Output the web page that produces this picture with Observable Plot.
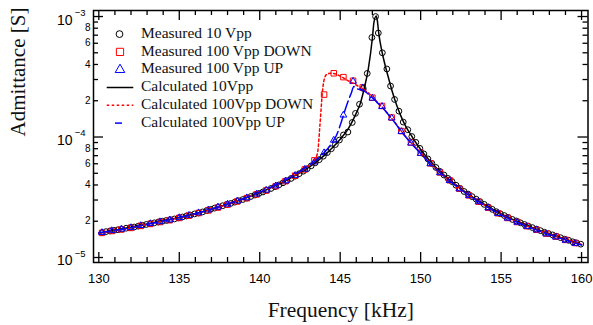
<!DOCTYPE html>
<html><head><meta charset="utf-8">
<script src="https://cdn.jsdelivr.net/npm/d3@7"></script>
<script src="https://cdn.jsdelivr.net/npm/@observablehq/plot@0.6"></script>
<style>
html,body{margin:0;padding:0;background:#fff;}
#chart{width:593px;height:325px;}
</style></head><body><div id="chart"></div>
<script>
// ---- Measured 10 Vpp (kHz, S)
const freq10 = [130.2,130.45,130.7,130.95,131.2,131.45,131.7,131.95,132.2,132.45,132.7,132.95,133.2,133.45,133.7,133.95,134.2,134.45,134.7,134.95,135.2,135.45,135.7,135.95,136.2,136.45,136.7,136.95,137.2,137.45,137.7,137.95,138.2,138.45,138.7,138.95,139.2,139.45,139.7,139.95,140.2,140.45,140.7,140.95,141.2,141.45,141.7,141.95,142.2,142.45,142.7,142.95,143.2,143.45,143.7,143.95,144.2,144.45,144.7,144.95,145.2,
 145.48,145.75,145.95,146.2,146.43,146.68,146.97,147.2,147.37,147.62,147.9,148.13,148.38,148.65,148.92,
 149.2,149.45,149.7,149.95,150.2,150.45,150.7,150.95,151.2,151.45,151.7,151.95,152.2,152.45,152.7,152.95,153.2,153.45,153.7,153.95,154.2,154.45,154.7,154.95,155.2,155.45,155.7,155.95,156.2,156.45,156.7,156.95,157.2,157.45,157.7,157.95,158.2,158.45,158.7,158.95,159.2,159.45,159.7,159.95];
const adm10 = [1.61e-5,1.64e-5,1.66e-5,1.68e-5,1.70e-5,1.72e-5,1.75e-5,1.77e-5,1.79e-5,1.82e-5,1.85e-5,1.88e-5,1.91e-5,1.94e-5,1.97e-5,2.00e-5,2.03e-5,2.06e-5,2.09e-5,2.13e-5,2.17e-5,2.21e-5,2.25e-5,2.30e-5,2.34e-5,2.39e-5,2.45e-5,2.51e-5,2.57e-5,2.63e-5,2.69e-5,2.75e-5,2.81e-5,2.88e-5,2.96e-5,3.03e-5,3.11e-5,3.21e-5,3.30e-5,3.40e-5,3.50e-5,3.62e-5,3.74e-5,3.87e-5,4.01e-5,4.17e-5,4.34e-5,4.53e-5,4.73e-5,4.96e-5,5.20e-5,5.46e-5,5.77e-5,6.11e-5,6.49e-5,6.93e-5,7.43e-5,7.99e-5,8.66e-5,9.44e-5,1.04e-4,
 1.10e-4,1.32e-4,1.57e-4,1.87e-4,2.53e-4,3.37e-4,6.7e-4,1.00e-3,7.3e-4,5.0e-4,3.67e-4,2.65e-4,2.05e-4,1.64e-4,1.33e-4,
 1.15e-4,1.01e-4,9.03e-5,8.05e-5,7.24e-5,6.58e-5,6.04e-5,5.59e-5,5.18e-5,4.84e-5,4.53e-5,4.27e-5,3.98e-5,3.74e-5,3.53e-5,3.36e-5,3.20e-5,3.05e-5,2.90e-5,2.76e-5,2.63e-5,2.51e-5,2.40e-5,2.31e-5,2.23e-5,2.15e-5,2.07e-5,2.01e-5,1.94e-5,1.88e-5,1.82e-5,1.77e-5,1.72e-5,1.67e-5,1.62e-5,1.58e-5,1.54e-5,1.50e-5,1.46e-5,1.42e-5,1.39e-5,1.35e-5,1.32e-5,1.29e-5];

// ---- Measured 100 Vpp (DOWN / UP sweeps)
const freq100 = [130.2,130.8,131.4,132.0,132.6,133.2,133.8,134.4,135.0,135.6,136.2,136.8,137.4,138.0,138.6,139.2,139.8,140.4,141.0,141.6,142.2,142.8,143.4,144.0,144.6,145.2,145.8,146.4,147.0,147.6,148.2,148.8,149.4,150.0,150.6,151.2,151.8,152.4,153.0,153.6,154.2,154.8,155.4,156.0,156.6,157.2,157.8,158.4,159.0,159.6];
const admDown = [1.60e-5,1.66e-5,1.71e-5,1.76e-5,1.83e-5,1.90e-5,1.97e-5,2.04e-5,2.13e-5,2.23e-5,2.34e-5,2.46e-5,2.60e-5,2.75e-5,2.92e-5,3.11e-5,3.34e-5,3.60e-5,3.91e-5,4.30e-5,4.78e-5,5.38e-5,6.40e-5,2.25e-4,3.38e-4,3.14e-4,2.93e-4,2.58e-4,2.12e-4,1.81e-4,1.45e-4,1.12e-4,9.00e-5,7.40e-5,6.05e-5,5.08e-5,4.38e-5,3.73e-5,3.28e-5,2.91e-5,2.59e-5,2.33e-5,2.13e-5,1.97e-5,1.82e-5,1.70e-5,1.58e-5,1.49e-5,1.40e-5,1.32e-5];
const admUp = [1.61e-5,1.67e-5,1.72e-5,1.77e-5,1.84e-5,1.91e-5,1.98e-5,2.05e-5,2.14e-5,2.24e-5,2.35e-5,2.48e-5,2.62e-5,2.77e-5,2.94e-5,3.13e-5,3.36e-5,3.62e-5,3.93e-5,4.32e-5,4.80e-5,5.40e-5,6.20e-5,7.40e-5,9.40e-5,1.52e-4,2.90e-4,2.56e-4,2.10e-4,1.79e-4,1.44e-4,1.11e-4,8.90e-5,7.30e-5,6.00e-5,5.05e-5,4.35e-5,3.71e-5,3.26e-5,2.90e-5,2.58e-5,2.32e-5,2.12e-5,1.96e-5,1.81e-5,1.69e-5,1.57e-5,1.48e-5,1.39e-5,1.31e-5];

// ---- Calculated curves
const calc10Freq = [130,131,132,133,134,135,136,137,138,139,140,141,142,143,143.5,144,144.5,145,145.5,146,146.25,146.5,146.75,147,147.1,147.24,147.31,147.4,147.6,147.8,148,148.25,148.5,148.75,149,149.5,150,150.5,151,152,153,154,155,156,157,158,159,160];
const calc10 = [1.59e-5,1.68e-5,1.78e-5,1.90e-5,2.02e-5,2.15e-5,2.31e-5,2.52e-5,2.77e-5,3.07e-5,3.45e-5,3.95e-5,4.63e-5,5.55e-5,6.2e-5,7.0e-5,8.1e-5,9.6e-5,1.17e-4,1.58e-4,1.9e-4,2.55e-4,3.7e-4,6.6e-4,9.0e-4,1.01e-3,9.2e-4,7.2e-4,5.1e-4,3.9e-4,3.1e-4,2.35e-4,1.85e-4,1.52e-4,1.28e-4,9.9e-5,7.9e-5,6.5e-5,5.5e-5,4.2e-5,3.33e-5,2.74e-5,2.3e-5,2.0e-5,1.76e-5,1.57e-5,1.42e-5,1.28e-5];
const calcDownFreq = [130,131,132,133,134,135,136,137,138,139,140,141,142,142.5,143,143.4,143.6,143.75,143.9,144.05,144.2,144.4,144.6,144.8,145,145.2,145.45,145.8,146.1,146.4,146.7,147,147.3,147.6,147.9,148.2,148.5,148.8,149.1,149.4,150,150.5,151,152,153,154,155,156,157,158,159,160];
const calcDown = [1.59e-5,1.67e-5,1.77e-5,1.89e-5,2.01e-5,2.14e-5,2.30e-5,2.51e-5,2.77e-5,3.08e-5,3.48e-5,3.98e-5,4.70e-5,5.10e-5,5.70e-5,6.40e-5,7.50e-5,1.30e-4,2.40e-4,3.15e-4,3.33e-4,3.38e-4,3.37e-4,3.30e-4,3.20e-4,3.10e-4,2.95e-4,2.80e-4,2.65e-4,2.52e-4,2.35e-4,2.15e-4,1.95e-4,1.78e-4,1.60e-4,1.43e-4,1.27e-4,1.12e-4,1.00e-4,9.00e-5,7.40e-5,6.30e-5,5.40e-5,4.15e-5,3.30e-5,2.70e-5,2.27e-5,1.97e-5,1.74e-5,1.56e-5,1.41e-5,1.28e-5];
const calcUpFreq = [130,131,132,133,134,135,136,137,138,139,140,141,142,143,143.5,144,144.5,144.75,145,145.27,145.5,145.68,145.85,146.1,146.4,146.7,147,147.3,147.6,147.9,148.2,148.5,148.8,149.1,149.4,150,150.5,151,152,153,154,155,156,157,158,159,160];
const calcUp = [1.60e-5,1.68e-5,1.77e-5,1.89e-5,2.01e-5,2.15e-5,2.31e-5,2.52e-5,2.78e-5,3.09e-5,3.50e-5,4.00e-5,4.72e-5,5.72e-5,6.40e-5,7.40e-5,9.00e-5,1.02e-4,1.25e-4,1.62e-4,2.00e-4,2.30e-4,2.62e-4,2.50e-4,2.45e-4,2.30e-4,2.12e-4,1.93e-4,1.77e-4,1.59e-4,1.42e-4,1.26e-4,1.11e-4,9.90e-5,8.90e-5,7.30e-5,6.20e-5,5.35e-5,4.12e-5,3.28e-5,2.69e-5,2.26e-5,1.96e-5,1.73e-5,1.55e-5,1.40e-5,1.27e-5];

// ---- Ticks and labels
const xTicksMajor = [130,135,140,145,150,155,160];
const xTicksMinor = [131,132,133,134,136,137,138,139,141,142,143,144,146,147,148,149,151,152,153,154,156,157,158,159];
const yDecades = [1e-5,1e-4,1e-3];
const yMinor = [2e-5,3e-5,4e-5,5e-5,6e-5,7e-5,8e-5,9e-5,2e-4,3e-4,4e-4,5e-4,6e-4,7e-4,8e-4,9e-4];
const yMinorLabeled = [2e-5,4e-5,6e-5,8e-5,2e-4,4e-4,6e-4,8e-4];
const legendLabels = ["Measured 10 Vpp","Measured 100 Vpp DOWN","Measured 100 Vpp UP","Calculated 10Vpp","Calculated 100Vpp DOWN","Calculated 100Vpp UP"];
const xTitle = "Frequency [kHz]";
const yTitle = "Admittance [S]";

const W = 593, H = 325, mL = 93, mR = 5.5, mT = 10, mB = 63;
const fw = W - mL - mR, fh = H - mT - mB;
const serif = "'Liberation Serif','Times New Roman',serif";
const pts = (fs, vs) => fs.map((f, i) => ({f, v: vs[i]}));
const mantissa = d => String(Math.round(d / 10 ** Math.floor(Math.log10(d) + 1e-9)));

const chart = Plot.plot({
  width: W, height: H,
  marginLeft: mL, marginRight: mR, marginTop: mT, marginBottom: mB,
  style: {fontFamily: "'Liberation Sans',Arial,sans-serif", fontSize: "13px", background: "white", color: "black"},
  x: {domain: [129.67, 160.40]},
  y: {type: "log", domain: [9.09e-6, 1.122e-3]},
  marks: [
    Plot.tickX(xTicksMajor, {x: d => d, insetTop: fh - 10, strokeWidth: 1.3}),
    Plot.tickX(xTicksMajor, {x: d => d, insetBottom: fh - 10, strokeWidth: 1.3}),
    Plot.tickX(xTicksMinor, {x: d => d, insetTop: fh - 5, strokeWidth: 1.3}),
    Plot.tickX(xTicksMinor, {x: d => d, insetBottom: fh - 5, strokeWidth: 1.3}),
    Plot.tickY(yDecades, {y: d => d, insetRight: fw - 10, strokeWidth: 1.3}),
    Plot.tickY(yDecades, {y: d => d, insetLeft: fw - 10, strokeWidth: 1.3}),
    Plot.tickY(yMinor, {y: d => d, insetRight: fw - 5, strokeWidth: 1.3}),
    Plot.tickY(yMinor, {y: d => d, insetLeft: fw - 5, strokeWidth: 1.3}),
    Plot.frame({stroke: "black", strokeWidth: 1.5}),
    Plot.axisX(xTicksMajor, {tickSize: 0, tickPadding: 11.5, fontSize: 13, label: null}),
    Plot.axisY(yDecades, {tickSize: 0, tickPadding: 21, tickFormat: () => "10", fontSize: 14, dy: 3.5, label: null}),
    Plot.axisY(yDecades, {tickSize: 0, tickPadding: 8, tickFormat: d => "\u2212" + Math.round(-Math.log10(d)), fontSize: 9.5, dy: -4, label: null}),
    Plot.text(yMinorLabeled, {y: d => d, frameAnchor: "left", text: mantissa, textAnchor: "end", dx: -3, fontSize: 10}),
    Plot.text([xTitle], {text: d => d, frameAnchor: "bottom", lineAnchor: "bottom", dy: 54.5, fontFamily: serif, fontSize: 21.5, fill: "#111"}),
    Plot.text([yTitle], {text: d => d, frameAnchor: "left", dx: -75, rotate: -90, fontFamily: serif, fontSize: 21, fill: "#111"}),
    Plot.dot(pts(freq10, adm10), {x: "f", y: "v", r: 2.9, stroke: "black", strokeWidth: 1}),
    Plot.dot(pts(freq100, admDown), {x: "f", y: "v", symbol: "square", r: 3.1, stroke: "#ff0000", strokeWidth: 1}),
    Plot.dot(pts(freq100, admUp), {x: "f", y: "v", symbol: "triangle", r: 2.5, stroke: "#0000ff", strokeWidth: 1}),
    Plot.line(pts(calc10Freq, calc10), {x: "f", y: "v", stroke: "black", strokeWidth: 1.5, curve: "monotone-x"}),
    Plot.line(pts(calcDownFreq, calcDown), {x: "f", y: "v", stroke: "#ff0000", strokeWidth: 1.5, strokeDasharray: "2.5,2.5", curve: "monotone-x"}),
    Plot.line(pts(calcUpFreq, calcUp), {x: "f", y: "v", stroke: "#0000ff", strokeWidth: 1.5, strokeDasharray: "12,4", curve: "monotone-x"})
  ]
});
document.getElementById("chart").appendChild(chart);

// ---- Legend (inside the frame, top-left)
const svg = d3.select(chart);
const lg = svg.append("g").attr("font-family", serif).attr("font-size", 15.5).attr("fill", "#111").attr("text-anchor", "start");
const base0 = 37.7, step = 17.8, symX = 120, textX = 141;
legendLabels.forEach((t, i) => {
  const yb = base0 + step * i, yc = yb - 3.6;
  lg.append("text").attr("x", textX).attr("y", yb).attr("text-anchor", "start").text(t);
  if (i === 0) lg.append("circle").attr("cx", symX - 0.5).attr("cy", yc).attr("r", 3.4).attr("fill", "none").attr("stroke", "black");
  if (i === 1) lg.append("path").attr("transform", `translate(${symX},${yc})`).attr("d", d3.symbol(d3.symbolSquare, 52)()).attr("fill", "none").attr("stroke", "#ff0000");
  if (i === 2) lg.append("path").attr("transform", `translate(${symX},${yc})`).attr("d", d3.symbol(d3.symbolTriangle, 40)()).attr("fill", "none").attr("stroke", "#0000ff");
  if (i === 3) lg.append("line").attr("x1", 106.7).attr("x2", 133.3).attr("y1", yc).attr("y2", yc).attr("stroke", "black").attr("stroke-width", 1.5);
  if (i === 4) lg.append("line").attr("x1", 106.7).attr("x2", 133.3).attr("y1", yc).attr("y2", yc).attr("stroke", "#ff0000").attr("stroke-width", 1.5).attr("stroke-dasharray", "2.5,2.5");
  if (i === 5) lg.append("line").attr("x1", 115).attr("x2", 122).attr("y1", yc).attr("y2", yc).attr("stroke", "#0000ff").attr("stroke-width", 1.5);
});
</script>
</body></html>
